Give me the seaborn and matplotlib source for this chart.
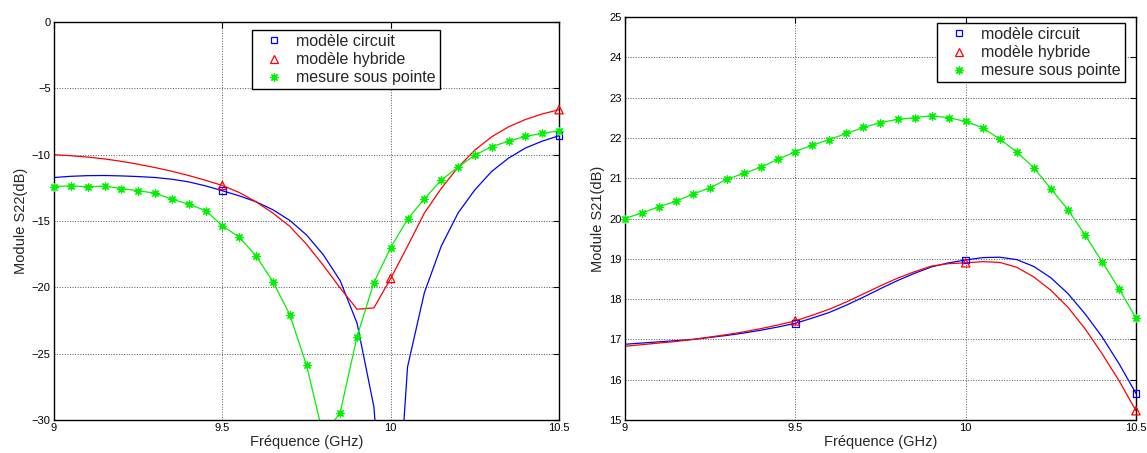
import matplotlib as mpl
import numpy as np
import pandas as pd
import seaborn as sns
from matplotlib import pyplot as plt
from matplotlib.lines import Line2D

# -- data ------------------------------------------------------------------ #
freq = [9.00, 9.05, 9.10, 9.15, 9.20, 9.25, 9.30, 9.35, 9.40, 9.45, 9.50,
        9.55, 9.60, 9.65, 9.70, 9.75, 9.80, 9.85, 9.90, 9.95, 10.00,
        10.05, 10.10, 10.15, 10.20, 10.25, 10.30, 10.35, 10.40, 10.45, 10.50]

# S22 (left)
s22_circuit = [-11.72, -11.63, -11.58, -11.57, -11.60, -11.65, -11.72, -11.85, -12.05, -12.35, -12.72,
               -13.10, -13.55, -14.15, -14.95, -16.05, -17.55, -19.50, -22.70, -29.00, -45.00,
               -26.00, -20.40, -16.90, -14.40, -12.65, -11.26, -10.26, -9.50, -8.98, -8.57]
s22_hybride = [-10.00, -10.08, -10.18, -10.32, -10.50, -10.72, -10.97, -11.25, -11.57, -11.93, -12.32,
               -12.85, -13.55, -14.40, -15.40, -16.75, -18.35, -20.05, -21.65, -21.55, -19.33,
               -16.90, -14.40, -12.55, -10.95, -9.65, -8.65, -7.90, -7.35, -6.93, -6.61]
s22_mesure = [-12.40, -12.35, -12.42, -12.37, -12.55, -12.72, -12.90, -13.35, -13.73, -14.21, -15.36,
              -16.22, -17.63, -19.56, -22.05, -25.87, -31.20, -29.44, -23.71, -19.64, -17.00,
              -14.86, -13.33, -11.92, -10.94, -10.03, -9.40, -8.98, -8.62, -8.40, -8.20]

# S21 (right)
s21_circuit = [16.88, 16.91, 16.94, 16.97, 17.00, 17.05, 17.10, 17.16, 17.23, 17.31, 17.40,
               17.53, 17.67, 17.85, 18.05, 18.26, 18.46, 18.64, 18.80, 18.90, 18.97,
               19.03, 19.04, 18.98, 18.81, 18.53, 18.14, 17.64, 17.07, 16.40, 15.66]
s21_hybride = [16.83, 16.87, 16.91, 16.95, 17.00, 17.06, 17.12, 17.19, 17.27, 17.36, 17.46,
               17.60, 17.75, 17.93, 18.13, 18.33, 18.52, 18.68, 18.82, 18.88, 18.90,
               18.93, 18.91, 18.79, 18.55, 18.22, 17.80, 17.27, 16.65, 15.98, 15.23]
s21_mesure = [20.00, 20.14, 20.29, 20.43, 20.61, 20.76, 20.98, 21.12, 21.28, 21.47, 21.66,
              21.82, 21.96, 22.11, 22.26, 22.38, 22.46, 22.50, 22.55, 22.50, 22.41,
              22.25, 21.97, 21.65, 21.26, 20.74, 20.22, 19.60, 18.93, 18.26, 17.53]

series_names = ['modèle circuit', 'modèle hybride', 'mesure sous pointe']
x_ticks = [9, 9.5, 10, 10.5]
x_ticklabels = ['9', '9.5', '10', '10.5']

# -- style ----------------------------------------------------------------- #
sns.set_style('white')
plt.rcParams['font.family'] = ['Liberation Sans', 'DejaVu Sans']
mpl.rcParams['xtick.direction'] = 'in'
mpl.rcParams['ytick.direction'] = 'in'
mpl.rcParams['xtick.major.size'] = 4
mpl.rcParams['ytick.major.size'] = 4
mpl.rcParams['xtick.color'] = 'black'
mpl.rcParams['ytick.color'] = 'black'
mpl.rcParams['axes.edgecolor'] = 'black'
mpl.rcParams['axes.linewidth'] = 1

colours = [(0, 0, 1), (1, 0, 0), (0, 0.95, 0)]
markers = ['s', '^', (8, 2, 0)]
msizes = [24, 36, 28]          # scatter sizes
every = [10, 10, 1]            # markers on every n-th sample


def panel(ax, ys, ylim, yticks, ylabel, legend_anchor):
    df = pd.DataFrame({'freq': freq})
    for name, y, c, m, s, n in zip(series_names, ys, colours, markers, msizes, every):
        df[name] = y
        # line
        sns.lineplot(data=df, x='freq', y=name, ax=ax, color=c, linewidth=0.9,
                     linestyle='-', legend=False)
        # markers (asterisk is an unfilled marker -> drawn with its face colour)
        sub = df.iloc[(10 if n == 10 else 0)::n]
        sub = sub[(sub[name] >= ylim[0]) & (sub[name] <= ylim[1])]
        face = c if n == 1 else 'none'
        sns.scatterplot(data=sub, x='freq', y=name, ax=ax, marker=m, s=s,
                        facecolor=face, edgecolor=c, linewidth=0.9, legend=False,
                        zorder=3)
    # markers sitting on the frame overhang it (lines stay clipped)
    for coll in ax.collections:
        coll.set_clip_on(False)
    ax.set_xlim(9, 10.5)
    ax.set_ylim(ylim)
    ax.set_xticks(x_ticks)
    ax.set_xticklabels(x_ticklabels, fontsize=8)
    ax.set_yticks(yticks)
    ax.set_yticklabels([str(t).replace('-', '\u2212') for t in yticks], fontsize=8)
    ax.tick_params(top=True, right=True, width=0.8, pad=2.5)
    ax.grid(True, linestyle=':', color='#555555', linewidth=0.7)
    ax.set_xlabel('Fréquence (GHz)', fontsize=10.5, labelpad=1)
    ax.set_ylabel(ylabel, fontsize=10.5, labelpad=3)
    for sp in ax.spines.values():
        sp.set_visible(True)
        sp.set_linewidth(1)
    handles = [Line2D([], [], linestyle='none', color=c, marker=m, ms=ms, mfc='none',
                      mec=c, mew=0.9)
               for c, m, ms in zip(colours, markers, [5, 6, 6])]
    leg = ax.legend(handles, series_names, loc='upper left', bbox_to_anchor=legend_anchor,
                    borderaxespad=0, fontsize=11.5, frameon=True, fancybox=False,
                    edgecolor='black', framealpha=1, handlelength=2.25, handletextpad=0.25,
                    borderpad=0.25, labelspacing=0.2)
    leg.get_frame().set_linewidth(1)
    leg.set_zorder(5)


f = plt.figure(figsize=(11.47, 4.53), dpi=100)
ax1 = f.add_axes([0.0471, 0.0728, 0.4403, 0.8786])
ax2 = f.add_axes([0.5449, 0.0728, 0.4455, 0.8897])

panel(ax1, [s22_circuit, s22_hybride, s22_mesure], (-30, 0), [-30, -25, -20, -15, -10, -5, 0],
      'Module S22(dB)', (0.392, 0.980))
panel(ax2, [s21_circuit, s21_hybride, s21_mesure], (15, 25), list(range(15, 26)),
      'Module S21(dB)', (0.611, 0.985))

plt.savefig('out.png', dpi=100)
